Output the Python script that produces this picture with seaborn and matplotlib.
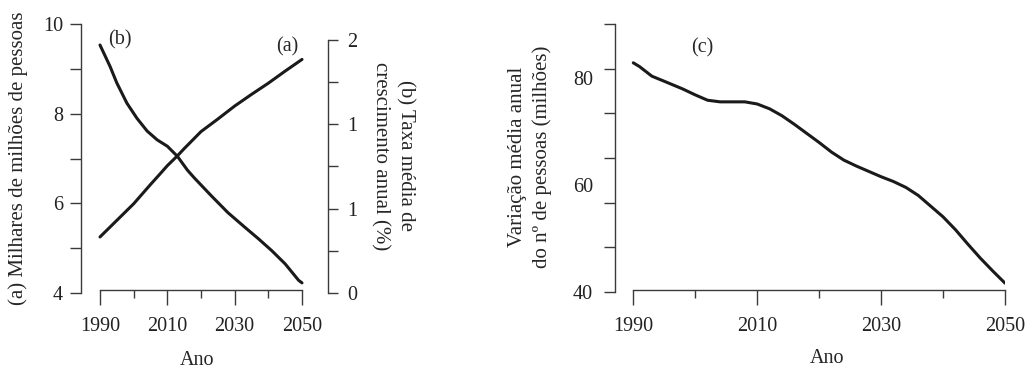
import matplotlib
matplotlib.use("Agg")
import matplotlib.pyplot as plt
from matplotlib.transforms import ScaledTranslation
import seaborn as sns

# (a) world population, thousands of millions
pop_years = [1990, 1995, 2000, 2005, 2008, 2010, 2013, 2015, 2020, 2025, 2030, 2035, 2040, 2045, 2050]
pop_values = [5.25, 5.62, 5.99, 6.42, 6.67, 6.84, 7.06, 7.22, 7.6, 7.88, 8.17, 8.43, 8.68, 8.95, 9.21]

# (b) mean annual growth rate (%)
rate_years = [1990, 1993, 1995, 1998, 2001, 2004, 2007, 2010, 2013, 2016, 2018, 2023, 2028,
              2033, 2037, 2041, 2045, 2049, 2050]
rate_values = [1.96, 1.79, 1.66, 1.50, 1.38, 1.28, 1.21, 1.16, 1.08, 0.97, 0.91, 0.77, 0.635,
               0.52, 0.43, 0.335, 0.23, 0.10, 0.08]

# (c) mean annual change in number of people (millions)
chg_years = [1990, 1991, 1992, 1993, 1995, 1998, 2000, 2002, 2004, 2006, 2008, 2010, 2012, 2014,
             2016, 2018, 2020, 2022, 2024, 2026, 2028, 2030, 2032, 2034, 2036, 2038, 2040, 2042,
             2044, 2046, 2048, 2050]
chg_values = [82.8, 82.1, 81.2, 80.3, 79.35, 77.9, 76.8, 75.8, 75.5, 75.5, 75.5, 75.1, 74.2, 72.9,
              71.3, 69.6, 67.9, 66.1, 64.6, 63.5, 62.5, 61.5, 60.6, 59.5, 58.0, 56.0, 54.0, 51.6,
              48.9, 46.3, 43.9, 41.6]

x_major = [1990, 2010, 2030, 2050]
x_minor = [2000, 2020, 2040]
pop_ticks = [4, 6, 8, 10]
pop_minor = [5, 7, 9]
rate_ticks = [0, 2 / 3, 4 / 3, 2]
rate_labels = ["0", "1", "1", "2"]
rate_minor = [1 / 3, 1, 5 / 3]
chg_ticks = [40, 60, 80]
chg_marks = [40, 48.33, 56.67, 65, 73.33, 81.67, 90]

sns.set_theme(style="ticks")
plt.rcParams["font.family"] = ["Liberation Serif", "DejaVu Serif"]

LINE = "#1a1a1a"
SPINE = "#3a3a3a"
FS = 14.5      # tick labels and panel tags
LFS = 15       # axis titles

fig = plt.figure(figsize=(10.32, 3.70), dpi=100)


def shift_down(labels, px):
    for lab in labels:
        lab.set_transform(lab.get_transform() + ScaledTranslation(0, -px / 100, fig.dpi_scale_trans))


# ---- left panel: (a) and (b) ----
ax1 = fig.add_axes([81 / 1032, 77 / 370, 247 / 1032, 269 / 370])
ax2 = ax1.twinx()

sns.lineplot(x=pop_years, y=pop_values, ax=ax1, color=LINE, linewidth=2.2)
sns.lineplot(x=rate_years, y=rate_values, ax=ax2, color=LINE, linewidth=2.2)

ax1.set_xlim(1984.36, 2057.72)
ax1.set_ylim(4, 10)
ax2.set_ylim(0, 2.126)

for s in ["top", "right"]:
    ax1.spines[s].set_visible(False)
for s in ["top", "left", "bottom"]:
    ax2.spines[s].set_visible(False)
ax1.spines["left"].set_bounds(4, 10)
ax1.spines["bottom"].set_bounds(1990, 2050)
ax1.spines["bottom"].set_position(("outward", -2.2))
ax2.spines["right"].set_bounds(0, 2)

ax1.set_xticks(x_major)
ax1.set_xticks(x_minor, minor=True)
ax1.set_yticks(pop_ticks)
ax1.set_yticks(pop_minor, minor=True)
ax2.set_yticks(rate_ticks, rate_labels)
ax2.set_yticks(rate_minor, minor=True)

ax1.tick_params(axis="x", which="major", length=10.5, pad=9, labelsize=FS)
ax1.tick_params(axis="x", which="minor", length=5.5)
ax1.tick_params(axis="y", which="both", length=8, pad=5, labelsize=FS)
ax2.tick_params(axis="y", which="both", length=7, pad=7, labelsize=FS)
shift_down(ax1.get_yticklabels()[:3], 5)

ax1.set_ylabel("(a) Milhares de milhões de pessoas", fontsize=LFS, va="center")
ax1.yaxis.set_label_coords(-0.255, 0.5)
ax2.set_ylabel("(b) Taxa média de\ncrescimento anual (%)", fontsize=LFS, rotation=270,
               va="center", linespacing=1.4)
ax2.yaxis.set_label_coords(1.263, 0.51)
ax1.set_xlabel("Ano", fontsize=FS, va="center")
ax1.xaxis.set_label_coords(0.47, -0.25)

ax1.text(0.158, 0.941, "(b)", transform=ax1.transAxes, ha="center", va="center", fontsize=FS)
ax1.text(0.834, 0.914, "(a)", transform=ax1.transAxes, ha="center", va="center", fontsize=FS)

# ---- right panel: (c) ----
ax3 = fig.add_axes([615 / 1032, 78.3 / 370, 390 / 1032, 267.4 / 370])
sns.lineplot(x=chg_years, y=chg_values, ax=ax3, color=LINE, linewidth=2.2)

ax3.set_xlim(1987.05, 2050)
ax3.set_ylim(40, 90)
for s in ["top", "right"]:
    ax3.spines[s].set_visible(False)
ax3.spines["left"].set_bounds(40, 90)
ax3.spines["bottom"].set_bounds(1990, 2050)
ax3.spines["bottom"].set_position(("outward", -1.2))

ax3.set_xticks(x_major)
ax3.set_xticks(x_minor, minor=True)
ax3.yaxis.remove_overlapping_locs = False
ax3.set_yticks(chg_ticks)
ax3.set_yticks(chg_marks, minor=True)
ax3.tick_params(axis="x", which="major", length=10.5, pad=9, labelsize=FS)
ax3.tick_params(axis="x", which="minor", length=5.5)
ax3.tick_params(axis="y", which="major", length=0, pad=16, labelsize=FS)
ax3.tick_params(axis="y", which="minor", length=8)
shift_down(ax3.get_yticklabels(), 6)

ax3.set_ylabel("Variação média anual\ndo nº de pessoas (milhões)", fontsize=LFS, va="center",
               linespacing=1.4)
ax3.yaxis.set_label_coords(-0.218, 0.504)
ax3.set_xlabel("Ano", fontsize=FS, va="center")
ax3.xaxis.set_label_coords(0.5436, -0.25)
ax3.text(0.223, 0.911, "(c)", transform=ax3.transAxes, ha="center", va="center", fontsize=FS)

for ax in (ax1, ax2, ax3):
    for sp in ax.spines.values():
        sp.set_color(SPINE)
        sp.set_linewidth(1.0)
    ax.tick_params(which="both", color=SPINE, width=1.0, labelcolor="#222222")

fig.savefig("out.png", dpi=100)
